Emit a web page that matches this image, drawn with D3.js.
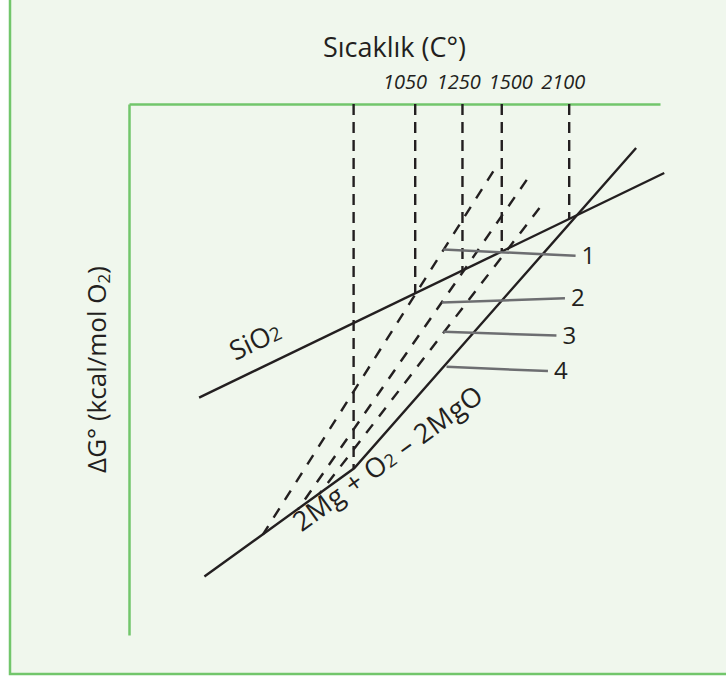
<!DOCTYPE html>
<html>
<head>
<meta charset="utf-8">
<script src="https://cdn.jsdelivr.net/npm/d3@7"></script>
<style>
    body { margin: 0; background: #fff; }
    svg { display: block; }
    text { font-family: "Open Sans", sans-serif; fill: #231f20; }
</style>
</head>
<body>
<div id="chart"></div>
<script>
// chart is schematic: both axes run in plain units 0..100

// vertical dashed lines (temperature marks) and where each one stops
var tempTicks = [42.3, 53.9, 62.8, 70.2, 82.9];
var tempDashEnd = [31.4, 64.3, 68.7, 72.2, 78.4];
// temperature labels on the top axis and their positions
var tempLabels = ["1050", "1250", "1500", "2100"];
var tempLabelPos = [51.9, 62.0, 71.8, 81.7];

// SiO2 line
var sio2X = [13.2, 100.8];
var sio2Y = [44.7, 87.0];
// 2Mg + O2 -> 2MgO line (kinked)
var mgoX = [14.2, 42.4, 95.5];
var mgoY = [11.0, 31.4, 91.7];

// dashed extrapolated lines (top point, bottom point)
var extX = [[68.6, 25.2], [74.9, 31.8], [77.3, 35.8]];
var extY = [[87.3, 18.9], [85.7, 23.6], [80.4, 26.5]];

// numbered leader lines
var leadNames = ["1", "2", "3", "4"];
var leadX0 = [59.2, 58.9, 59.2, 59.8];
var leadY0 = [72.6, 62.6, 57.1, 50.5];
var leadX1 = [84.1, 82.1, 80.5, 78.9];
var leadY1 = [71.4, 63.4, 56.4, 49.7];

var W = 726, H = 676;
var ink = "#231f20", green = "#72c66b";

var svg = d3.select("#chart")
    .append("svg")
    .attr("width", W)
    .attr("height", H);

// panel
svg.append("rect")
    .attr("x", 10).attr("y", -10)
    .attr("width", 740).attr("height", 684)
    .attr("fill", "#f0f7ed")
    .attr("stroke", green)
    .attr("stroke-width", 2.5);

var x = d3.scaleLinear().domain([0, 100]).range([129, 660]);
var y = d3.scaleLinear().domain([0, 100]).range([635, 104]);

// top axis with temperature labels
var topAxis = svg.append("g")
    .attr("transform", "translate(0," + y(100) + ")")
    .call(d3.axisTop(x)
        .tickValues(tempLabelPos)
        .tickFormat(function (d, i) { return tempLabels[i]; })
        .tickSize(0)
        .tickSizeOuter(0)
        .tickPadding(15))
    .attr("font-size", 20);
topAxis.select(".domain").attr("stroke", green).attr("stroke-width", 2.5);
topAxis.selectAll("text").attr("font-style", "italic");

// left axis, line only
var leftAxis = svg.append("g")
    .attr("transform", "translate(" + x(0) + ",0)")
    .call(d3.axisLeft(y).tickValues([]).tickSizeOuter(0));
leftAxis.select(".domain").attr("stroke", green).attr("stroke-width", 2.5);

// axis titles
svg.append("text")
    .attr("x", x(50)).attr("y", 57)
    .attr("text-anchor", "middle")
    .attr("font-size", 27)
    .text("Sıcaklık (C°)");

var yl = svg.append("text")
    .attr("transform", "translate(106," + y(50) + ") rotate(-90)")
    .attr("text-anchor", "middle")
    .attr("font-size", 26);
yl.append("tspan").text("ΔG° (kcal/mol O");
yl.append("tspan").attr("font-size", 17).attr("dy", 4).text("2");
yl.append("tspan").attr("dy", -4).text(")");

// vertical dashed lines
svg.selectAll(".vdash")
    .data(tempTicks)
    .enter()
    .append("line")
    .attr("x1", d => x(d)).attr("x2", d => x(d))
    .attr("y1", y(100))
    .attr("y2", (d, i) => y(tempDashEnd[i]))
    .attr("stroke", ink)
    .attr("stroke-width", 2.4)
    .attr("stroke-dasharray", "11,7");

var line = d3.line()
    .x(d => x(d[0]))
    .y(d => y(d[1]));

// dashed extrapolations
svg.selectAll(".ext")
    .data(extX)
    .enter()
    .append("path")
    .attr("d", (d, i) => line(d.map((v, j) => [v, extY[i][j]])))
    .attr("fill", "none")
    .attr("stroke", ink)
    .attr("stroke-width", 2.4)
    .attr("stroke-dasharray", "11,10");

// solid lines
svg.append("path")
    .attr("d", line(sio2X.map((v, i) => [v, sio2Y[i]])))
    .attr("fill", "none")
    .attr("stroke", ink)
    .attr("stroke-width", 2.4);

svg.append("path")
    .attr("d", line(mgoX.map((v, i) => [v, mgoY[i]])))
    .attr("fill", "none")
    .attr("stroke", ink)
    .attr("stroke-width", 2.4)
    .attr("stroke-linejoin", "miter");

// leader lines + numbers
svg.selectAll(".lead")
    .data(leadNames)
    .enter()
    .append("line")
    .attr("x1", (d, i) => x(leadX0[i]))
    .attr("y1", (d, i) => y(leadY0[i]))
    .attr("x2", (d, i) => x(leadX1[i]))
    .attr("y2", (d, i) => y(leadY1[i]))
    .attr("stroke", "#6d6e71")
    .attr("stroke-width", 2.5);

svg.selectAll(".leadtxt")
    .data(leadNames)
    .enter()
    .append("text")
    .attr("x", (d, i) => x(leadX1[i]) + 6)
    .attr("y", (d, i) => y(leadY1[i]) + 8)
    .attr("font-size", 24)
    .text(d => d);

// line labels, turned along their lines
var angSio2 = Math.atan2(y(sio2Y[1]) - y(sio2Y[0]), x(sio2X[1]) - x(sio2X[0])) * 180 / Math.PI;
var s = svg.append("text")
    .attr("transform", "translate(" + x(20.0) + "," + y(51.6) + ") rotate(" + angSio2 + ")")
    .attr("font-size", 27);
s.append("tspan").text("SiO");
s.append("tspan").attr("font-size", 19).text("2");

var angMg = Math.atan2(y(mgoY[1]) - y(mgoY[0]), x(mgoX[1]) - x(mgoX[0])) * 180 / Math.PI;
var m = svg.append("text")
    .attr("transform", "translate(" + x(32.5) + "," + y(19.3) + ") rotate(" + angMg + ")")
    .attr("font-size", 27)
    .attr("letter-spacing", 0.6);
m.append("tspan").text("2Mg + O");
m.append("tspan").attr("font-size", 18).text("2");
m.append("tspan").text(" – 2MgO");
</script>
</body>
</html>
